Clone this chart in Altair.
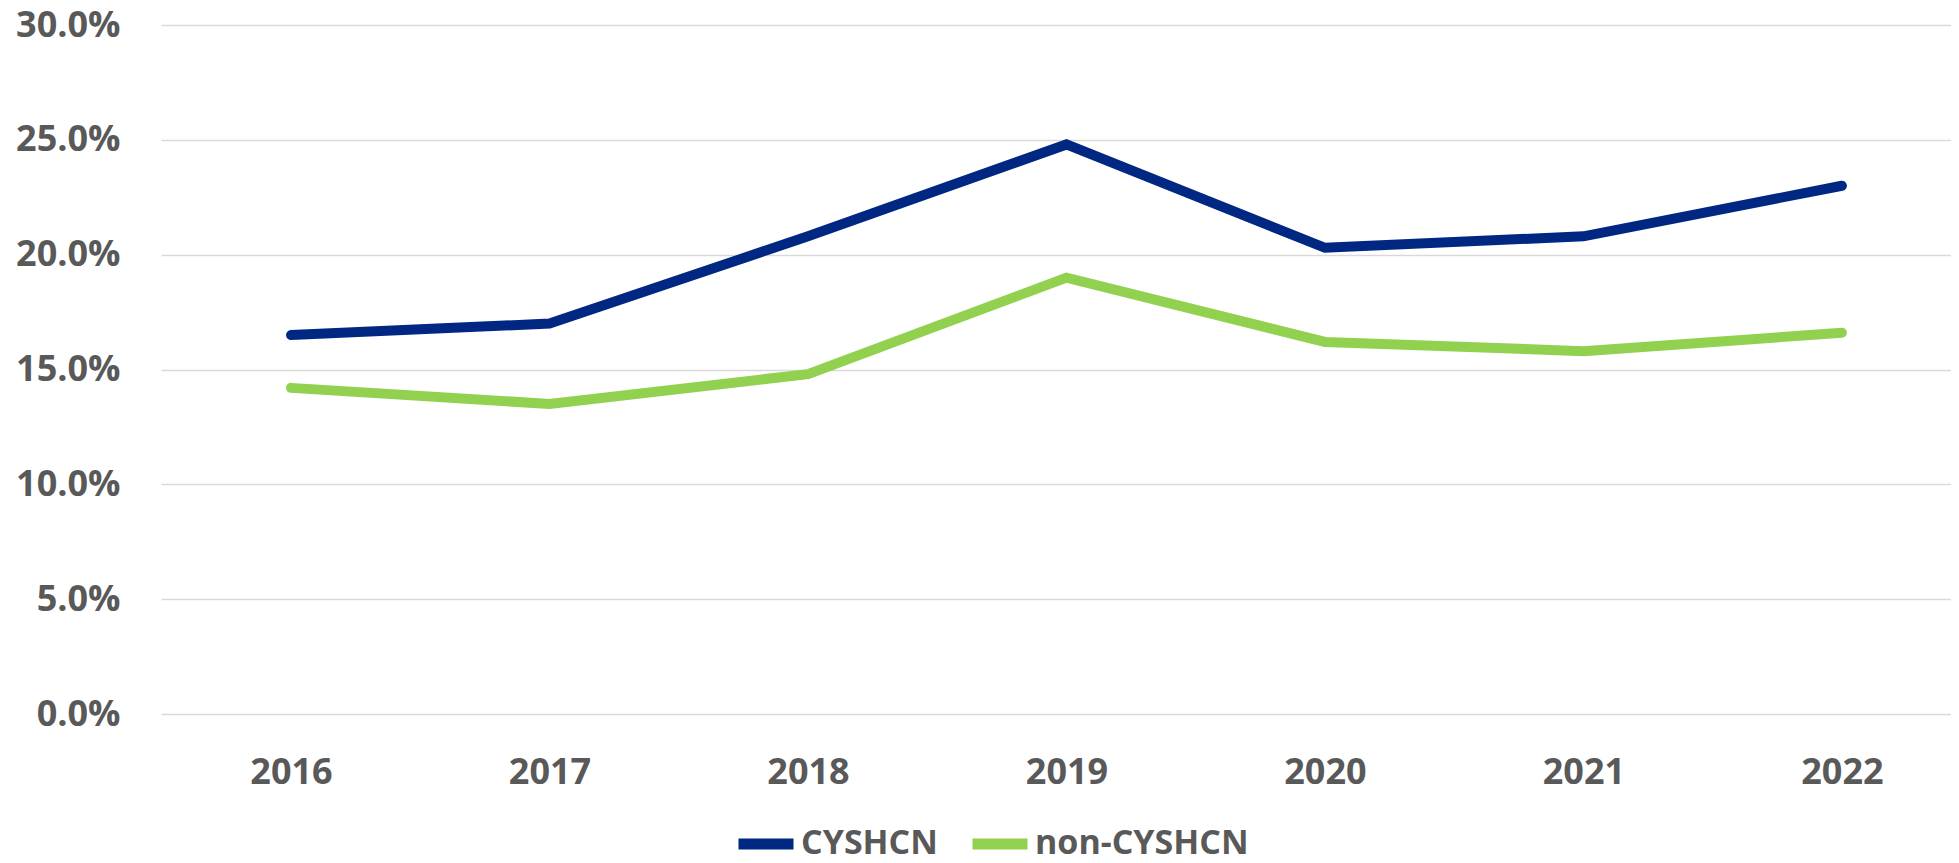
import altair as alt
import pandas as pd

years = [2016, 2017, 2018, 2019, 2020, 2021, 2022]
cyshcn = [0.165, 0.170, 0.208, 0.248, 0.203, 0.208, 0.230]
non_cyshcn = [0.142, 0.135, 0.148, 0.190, 0.162, 0.158, 0.166]
series = ["CYSHCN", "non-CYSHCN"]
colors = ["#002882", "#92D050"]
y_ticks = [0.0, 0.05, 0.10, 0.15, 0.20, 0.25, 0.30]

rows = []
for name, vals in zip(series, [cyshcn, non_cyshcn]):
    for yr, v in zip(years, vals):
        rows.append({"year": yr, "value": v, "series": name})
df = pd.DataFrame(rows)

FONT = "Open Sans"
GRAY = "#595959"

chart = alt.Chart(df).mark_line(strokeWidth=10, strokeCap="round").encode(
    x=alt.X("year:Q",
            scale=alt.Scale(domain=[2015.497, 2022.422], nice=False, zero=False),
            axis=alt.Axis(values=years, format="d", title=None, grid=False,
                          domain=False, ticks=False, tickSize=0,
                          labelFont=FONT, labelFontSize=36, labelFontWeight="bold",
                          labelColor=GRAY, labelPadding=41)),
    y=alt.Y("value:Q",
            scale=alt.Scale(domain=[0, 0.3], nice=False),
            axis=alt.Axis(values=y_ticks, format=".1%", title=None, grid=True,
                          gridColor="#D9D9D9", gridWidth=1.5,
                          domain=False, ticks=False, tickSize=0,
                          labelFont=FONT, labelFontSize=36, labelFontWeight="bold",
                          labelColor=GRAY, labelPadding=41, labelBaseline="middle")),
    color=alt.Color("series:N",
                    scale=alt.Scale(domain=series, range=colors),
                    legend=alt.Legend(orient="none", legendX=572, legendY=786,
                                      direction="horizontal", title=None,
                                      symbolType="stroke", symbolSize=3025,
                                      symbolStrokeWidth=11, labelOffset=2,
                                      columnPadding=12, padding=0,
                                      labelFont=FONT, labelFontSize=34,
                                      labelFontWeight="bold", labelColor=GRAY,
                                      labelLimit=400)),
).properties(
    width=1790,
    height=689,
    padding={"left": 153, "top": 17, "right": 0, "bottom": 141},
    autosize=alt.AutoSizeParams(type="none"),
).configure_view(stroke=None)

chart.save("out.html", embed_options={"renderer": "svg", "actions": False})
